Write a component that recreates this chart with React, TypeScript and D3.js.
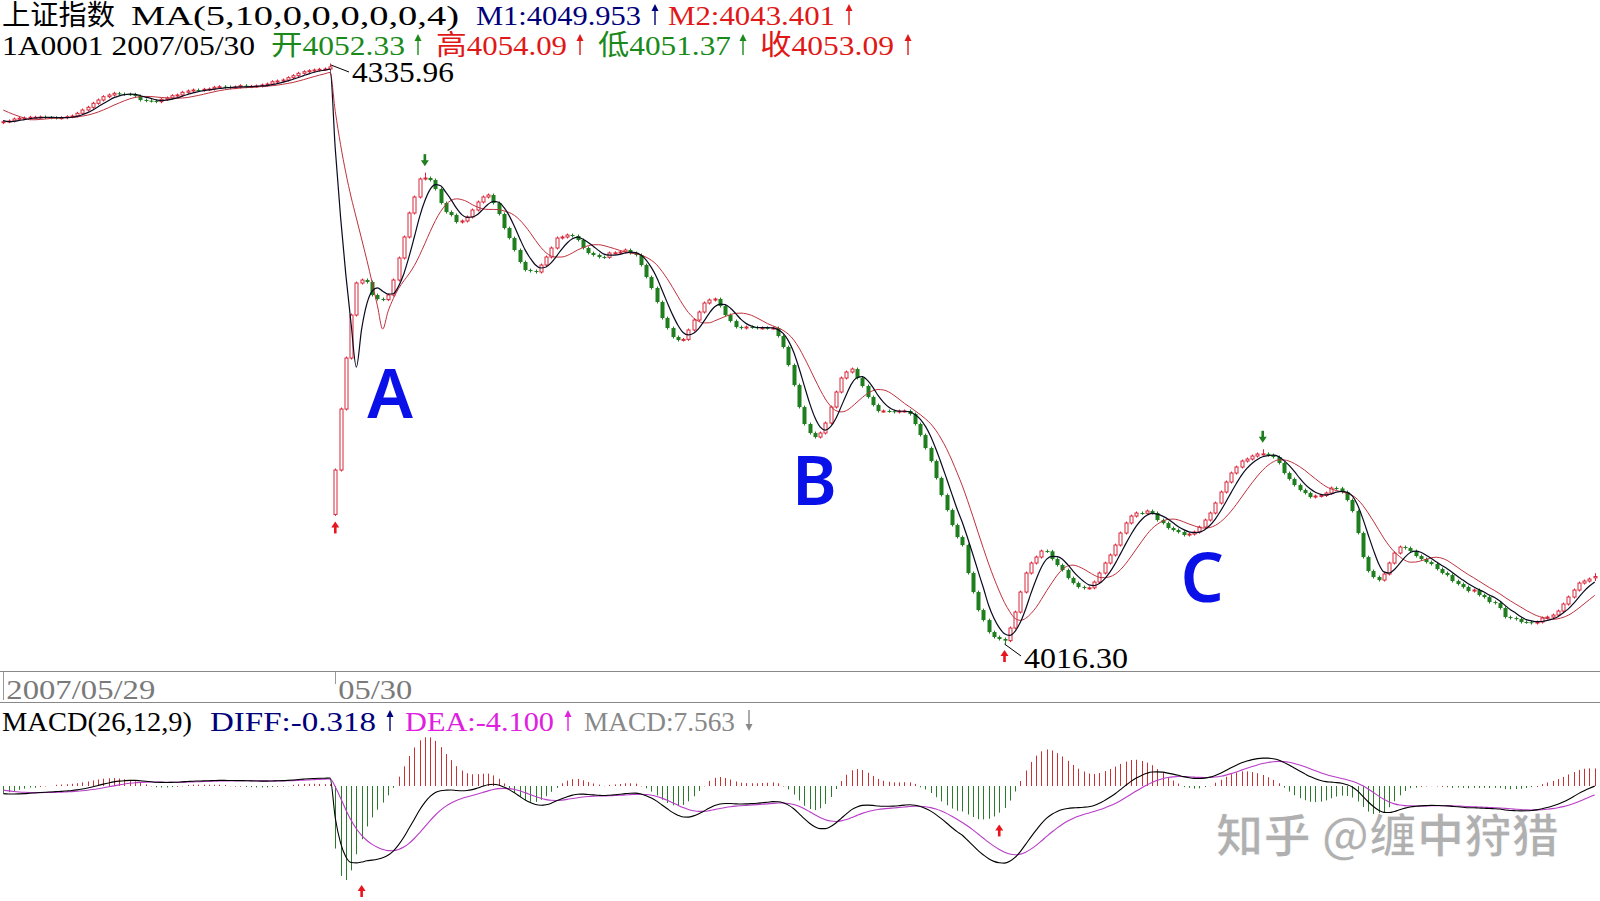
import React from "react";
import * as d3 from "d3";

// ---- data ----
const preCloses = [4318.2, 4317.6, 4316.9, 4316.3, 4315.8, 4307.4, 4305.3, 4304.4, 4304.1];

const closes0529 = [
  4304.6, 4304.99, 4306.09, 4306.48, 4306.65, 4307.03, 4307.03, 4307.2, 4306.9, 4306.81,
  4306.65, 4306.81, 4307.36, 4307.75, 4309.25, 4311.07, 4312.56, 4314.78, 4316.6, 4318.43,
  4319.37, 4320.31, 4319.92, 4319.8, 4319.75, 4318.81, 4316.6, 4316.21, 4316.05, 4315.66,
  4316.99, 4317.71, 4318.98, 4319.37, 4320.86, 4321.58, 4322.13, 4322.0, 4322.52, 4322.69,
  4323.63, 4323.96, 4323.79, 4323.4, 4323.79, 4324.51, 4323.96, 4324.18, 4324.34, 4324.9,
  4325.45, 4326.72, 4327.11, 4327.66, 4328.94, 4330.04, 4331.37, 4332.25, 4332.81, 4333.19,
  4333.58, 4333.75, 4334.92,
];

const closes0530 = [
  4111.96, 4145.69, 4173.9, 4197.68, 4215.38, 4217.04, 4215.94, 4208.75, 4206.53, 4206.2,
  4208.75, 4217.04, 4229.21, 4240.83, 4254.1, 4262.95, 4272.91, 4273.46, 4272.35, 4267.38,
  4259.63, 4254.65, 4252.99, 4249.12, 4249.68, 4251.89, 4255.76, 4260.19, 4262.95, 4264.06,
  4259.63, 4253.55, 4245.8, 4240.27, 4233.64, 4227.0, 4222.57, 4222.02, 4221.47, 4225.34,
  4229.76, 4234.74, 4240.27, 4240.83, 4241.93, 4241.38, 4239.17, 4234.74, 4231.98, 4230.87,
  4229.76, 4229.6, 4231.98, 4232.1, 4232.53, 4233.64, 4231.98, 4230.87, 4225.34, 4218.7,
  4212.62, 4204.88, 4196.03, 4190.49, 4185.52, 4183.86, 4184.2, 4189.39, 4194.92, 4199.34,
  4204.32, 4205.98, 4206.53, 4202.66, 4197.68, 4194.37, 4191.05, 4190.49, 4191.05, 4190.9,
  4190.49, 4190.6, 4190.4, 4190.5, 4186.07, 4179.99, 4170.03, 4158.97, 4146.8, 4137.4,
  4132.42, 4130.21, 4132.42, 4137.95, 4146.8, 4155.1, 4162.84, 4166.16, 4167.82, 4162.84,
  4158.41, 4152.33, 4147.91, 4144.59, 4144.6, 4144.5, 4144.03, 4144.59, 4144.6, 4142.93,
  4137.4, 4131.31, 4124.12, 4116.93, 4107.53, 4098.13, 4089.83, 4081.53, 4074.9, 4070.47,
  4054.99, 4044.48, 4034.52, 4028.99, 4022.35, 4019.59, 4018.5, 4017.6, 4024.57, 4033.41,
  4044.48, 4054.99, 4060.52, 4063.83, 4067.15, 4067.0, 4062.73, 4059.41, 4056.64, 4052.22,
  4049.45, 4047.24, 4046.69, 4046.8, 4050.01, 4054.99, 4060.52, 4064.94, 4070.47, 4077.11,
  4082.64, 4086.51, 4088.17, 4088.0, 4089.28, 4088.17, 4084.3, 4082.64, 4079.87, 4078.77,
  4077.66, 4076.0, 4076.55, 4077.66, 4080.43, 4084.3, 4088.17, 4093.7, 4099.79, 4105.32,
  4110.29, 4113.61, 4116.93, 4118.04, 4119.7, 4120.8, 4120.9, 4120.25, 4119.14, 4115.83,
  4110.29, 4106.98, 4103.66, 4100.89, 4099.23, 4097.02, 4097.57, 4097.9, 4099.23, 4102.0,
  4101.8, 4099.79, 4095.36, 4089.28, 4077.11, 4063.83, 4056.09, 4052.77, 4051.11, 4054.43,
  4060.52, 4066.05, 4069.37, 4068.82, 4067.15, 4064.39, 4062.73, 4061.07, 4059.96, 4057.2,
  4054.99, 4053.88, 4050.56, 4048.9, 4047.24, 4045.03, 4045.58, 4042.82, 4041.71, 4038.94,
  4038.39, 4035.63, 4030.65, 4030.1, 4029.54, 4027.89, 4027.8, 4027.33, 4027.89, 4030.1,
  4030.65, 4031.75, 4033.97, 4037.84, 4041.71, 4045.58, 4049.45, 4050.56, 4051.67, 4053.09,
];

const openOverrides: [number, number][] = [[63, 4087.41], [302, 4052.33]];
const highOverrides: [number, number][] = [[62, 4335.96], [80, 4275.59], [239, 4122.6], [302, 4054.09]];
const lowOverrides: [number, number][] = [[190, 4016.3], [302, 4051.37]];

const dateLabels = ["2007/05/29", "05/30"];
const dateIndex = [0, 63];

const waveNames = ["A", "B", "C"];
const waveIndex = [73.4, 153.9, 227.5];
const wavePrice = [4140.7, 4092.6, 4038.9];

const redUpIdx = [63, 190];
const greenDownIdx = [80, 239];
const macdUpIdx = [68, 189];

const maxLabel = "4335.96";
const minLabel = "4016.30";

// ---- derived ----
const all = [...closes0529, ...closes0530];
const N = all.length;
const ext = [...preCloses, ...all];
const P = preCloses.length;

function ma(n: number) {
  return all.map((_, i) => {
    const e = i + P;
    const s = Math.max(0, e - n + 1);
    return d3.mean(ext.slice(s, e + 1)) as number;
  });
}
function ema(arr: number[], n: number) {
  const k = 2 / (n + 1);
  const out: number[] = [];
  let prev = arr[0];
  arr.forEach((v, i) => {
    prev = i === 0 ? v : prev + k * (v - prev);
    out.push(prev);
  });
  return out;
}
const ma5 = ma(5);
const ma10 = ma(10);
const e12 = ema(ext, 12);
const e26 = ema(ext, 26);
const diffE = e12.map((v, i) => v - e26[i]);
const deaE = ema(diffE, 9);
const diff = diffE.slice(P);
const dea = deaE.slice(P);
const hist = diff.map((v, i) => 2 * (v - dea[i]));

const oMap = new Map(openOverrides);
const hMap = new Map(highOverrides);
const lMap = new Map(lowOverrides);
const candles = all.map((c, i) => {
  const o = oMap.has(i) ? (oMap.get(i) as number) : i === 0 ? preCloses[P - 1] : all[i - 1];
  const h = hMap.has(i) ? (hMap.get(i) as number) : Math.max(o, c);
  const l = lMap.has(i) ? (lMap.get(i) as number) : Math.min(o, c);
  return { o, c, h, l };
});

const W = 1600;
const H = 901;
const x = d3.scaleLinear().domain([0, N - 1]).range([3.3, 1594.7]);
const y = d3.scaleLinear().domain([4016.3, 4335.96]).range([643, 65]);
const minHist = d3.min(hist) as number;
const yM = d3.scaleLinear().domain([minHist, 0]).range([880, 786]);

const RED = "#d8283c";
const GREEN = "#1f7f1f";
const SER = '"Liberation Serif","Noto Sans CJK SC",serif';

const lineP = d3.line<number>().x((_, i) => x(i)).y((d) => y(d)).curve(d3.curveMonotoneX);
const lineM = d3.line<number>().x((_, i) => x(i)).y((d) => yM(d)).curve(d3.curveMonotoneX);

function GlyphArrow({ cx, base, color, down = false }: { cx: number; base: number; color: string; down?: boolean }) {
  const top = base - 21;
  const bot = base;
  if (!down) {
    return (
      <g>
        <line x1={cx} x2={cx} y1={top + 3} y2={bot} stroke={color} strokeWidth={1.4} />
        <path d={`M${cx - 3.5},${top + 7} L${cx},${top} L${cx + 3.5},${top + 7} Z`} fill={color} />
      </g>
    );
  }
  return (
    <g>
      <line x1={cx} x2={cx} y1={top} y2={bot - 3} stroke={color} strokeWidth={1.4} />
      <path d={`M${cx - 3.5},${bot - 7} L${cx},${bot} L${cx + 3.5},${bot - 7} Z`} fill={color} />
    </g>
  );
}

function FatArrow({ cx, tip, color, down = false }: { cx: number; tip: number; color: string; down?: boolean }) {
  const s = down ? -1 : 1;
  return (
    <g fill={color}>
      <path d={`M${cx},${tip} L${cx - 4},${tip + s * 6} L${cx + 4},${tip + s * 6} Z`} />
      <rect x={cx - 1.3} width={2.6} y={down ? tip - 12 : tip + 5} height={7} />
    </g>
  );
}

function T({ x0, yb, len, fill, children, size = 28 }: any) {
  return (
    <text x={x0} y={yb} textLength={len} lengthAdjust="spacingAndGlyphs" fill={fill} fontSize={size} fontFamily={SER}>
      {children}
    </text>
  );
}

export default function App() {
  const fmt3 = d3.format(".3f");
  const fmt2 = d3.format(".2f");
  const last = candles[N - 1];
  const macdTip = (i: number) => {
    const lo = Math.max(0, i - 4);
    const hi = Math.min(N - 1, i + 4);
    const m = d3.min(hist.slice(lo, hi + 1)) as number;
    return yM(m) + 5;
  };
  return (
    <svg width={W} height={H} style={{ position: "absolute", left: 0, top: 0, background: "#fff" }}>
      <rect width={W} height={H} fill="#fff" />
      {/* header */}
      <T x0={2} yb={25} len={113} fill="#000">上证指数</T>
      <T x0={131} yb={25} len={328} fill="#000">MA(5,10,0,0,0,0,0,4)</T>
      <T x0={476} yb={25} len={165} fill="#00007a">{"M1:" + fmt3(4049.953)}</T>
      <GlyphArrow cx={655} base={25} color="#00007a" />
      <T x0={668} yb={25} len={167} fill="#e01818">{"M2:" + fmt3(4043.401)}</T>
      <GlyphArrow cx={849} base={25} color="#e01818" />

      <T x0={2} yb={55} len={253} fill="#000">1A0001 2007/05/30</T>
      <T x0={271} yb={55} len={134} fill="#1a8a1a">{"开" + fmt2(last.o)}</T>
      <GlyphArrow cx={418} base={55} color="#1a8a1a" />
      <T x0={436} yb={55} len={131} fill="#e01818">{"高" + fmt2(last.h)}</T>
      <GlyphArrow cx={580} base={55} color="#e01818" />
      <T x0={598} yb={55} len={133} fill="#1a8a1a">{"低" + fmt2(last.l)}</T>
      <GlyphArrow cx={743} base={55} color="#1a8a1a" />
      <T x0={760} yb={55} len={134} fill="#e01818">{"收" + fmt2(last.c)}</T>
      <GlyphArrow cx={908} base={55} color="#e01818" />

      {/* candles */}
      {candles.map((d, i) => {
        const cx = Math.round(x(i)) + 0.5;
        const up = d.c >= d.o;
        const col = up ? RED : GREEN;
        const top = y(Math.max(d.o, d.c));
        const bot = y(Math.min(d.o, d.c));
        const hgt = Math.max(1, bot - top);
        return (
          <g key={i}>
            <line x1={cx} x2={cx} y1={y(d.h) - 1.5} y2={y(d.l) + 1.5} stroke={col} strokeWidth={1} />
            {up ? (
              <rect x={cx - 1.5} y={top} width={3} height={hgt} fill="#fff" stroke={col} strokeWidth={1} />
            ) : (
              <rect x={cx - 2} y={top} width={4} height={hgt} fill={col} />
            )}
          </g>
        );
      })}
      <path d={lineP(ma10) || ""} fill="none" stroke="#c0303c" strokeWidth={1} />
      <path d={lineP(ma5) || ""} fill="none" stroke="#0a0a20" strokeWidth={1.2} />

      {/* extreme labels */}
      <line x1={x(62) + 1} y1={y(candles[62].h)} x2={349} y2={72} stroke="#000" strokeWidth={1} />
      <T x0={352} yb={82} len={102} fill="#000" size={29}>{maxLabel}</T>
      <line x1={x(190)} y1={y(candles[190].l) + 1} x2={1021} y2={656} stroke="#000" strokeWidth={1} />
      <T x0={1024} yb={668} len={104} fill="#000" size={29}>{minLabel}</T>

      {redUpIdx.map((i) => (
        <FatArrow key={"ru" + i} cx={x(i)} tip={y(candles[i].l) + 7} color="#e8141e" />
      ))}
      {greenDownIdx.map((i) => (
        <FatArrow key={"gd" + i} cx={x(i)} tip={y(candles[i].h) - 8} color={GREEN} down />
      ))}

      {/* wave labels */}
      {waveNames.map((n, k) => (
        <text key={n} x={x(waveIndex[k])} y={y(wavePrice[k])} textAnchor="middle" fontSize={68} fontWeight={600}
          fontFamily='"Noto Sans","Open Sans",sans-serif' fill="#0a10e8">{n}</text>
      ))}

      {/* date axis */}
      <line x1={0} x2={W} y1={671.5} y2={671.5} stroke="#888" strokeWidth={1} />
      <line x1={0} x2={W} y1={702.5} y2={702.5} stroke="#888" strokeWidth={1} />
      {dateIndex.map((i, k) => (
        <g key={"d" + k}>
          <line x1={Math.round(x(i)) + 0.5} x2={Math.round(x(i)) + 0.5} y1={672} y2={k === 0 ? 700 : 684} stroke="#999" />
          <T x0={x(i) + 3} yb={699} len={k === 0 ? 149 : 74} fill="#7a7a7a">{dateLabels[k]}</T>
        </g>
      ))}

      {/* MACD header */}
      <T x0={2} yb={731} len={190} fill="#000">MACD(26,12,9)</T>
      <T x0={210} yb={731} len={166} fill="#00007a">DIFF:-0.318</T>
      <GlyphArrow cx={390} base={731} color="#00007a" />
      <T x0={405} yb={731} len={149} fill="#e020e0">DEA:-4.100</T>
      <GlyphArrow cx={568} base={731} color="#e020e0" />
      <T x0={584} yb={731} len={151} fill="#888">MACD:7.563</T>
      <GlyphArrow cx={749} base={731} color="#888" down />

      {/* MACD histogram */}
      {hist.map((v, i) => {
        const cx = Math.round(x(i)) + 0.5;
        return (
          <line key={"h" + i} x1={cx} x2={cx} y1={yM(0)} y2={yM(v) + (Math.abs(yM(v) - yM(0)) < 1 ? 1 : 0)}
            stroke={v >= 0 ? "#c83232" : "#2a7a2a"} strokeWidth={1} />
        );
      })}
      <path d={lineM(dea) || ""} fill="none" stroke="#b83cc8" strokeWidth={1.1} />
      <path d={lineM(diff) || ""} fill="none" stroke="#000" strokeWidth={1.1} />
      {macdUpIdx.map((i) => (
        <FatArrow key={"mu" + i} cx={x(i)} tip={macdTip(i)} color="#e8141e" />
      ))}

      {/* watermark */}
      <text x={1216} y={852} textLength={343} lengthAdjust="spacingAndGlyphs" fontSize={46} fontWeight={700}
        fontFamily='"Noto Sans CJK SC",sans-serif' fill="#b0b0b0" stroke="#fff" strokeWidth={1}>知乎 @缠中狩猎</text>
    </svg>
  );
}
